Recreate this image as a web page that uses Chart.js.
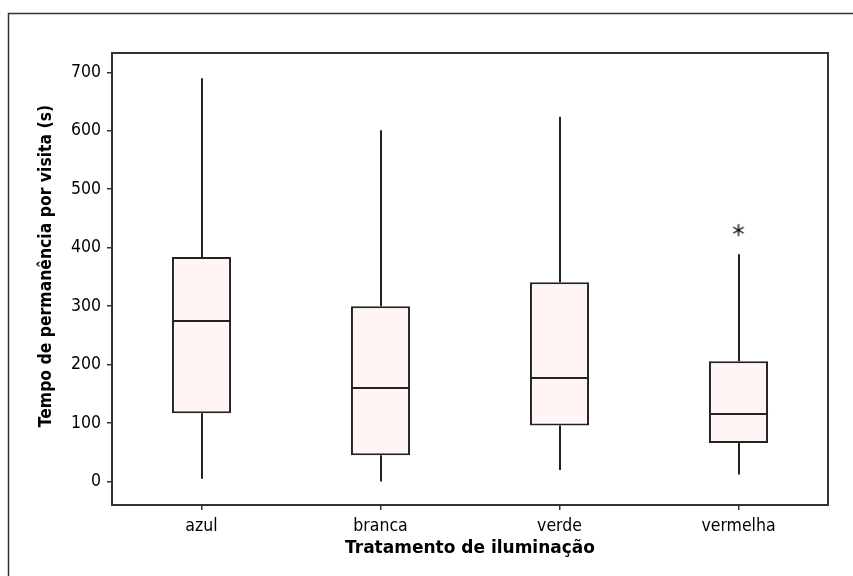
<!DOCTYPE html>
<html>
<head>
<meta charset="utf-8">
<script src="https://cdn.jsdelivr.net/npm/chart.js@4.4.1/dist/chart.umd.min.js"></script>
<style>
  html, body { margin: 0; padding: 0; background: #fff; }
  canvas { display: block; }
</style>
</head>
<body>
<canvas id="box" width="853" height="576"></canvas>
<script>
// Tratamento de iluminação -> tempo de permanência (s)
const categories = ['azul', 'branca', 'verde', 'vermelha'];
const minVals    = [5, 0, 20, 12];
const q1Vals     = [117, 45, 96, 66];
const medianVals = [275, 160, 178, 116];
const q3Vals     = [384, 300, 341, 206];
const maxVals    = [690, 601, 624, 389];
const outliers   = [null, null, null, 430];
const yTitle = 'Tempo de permanência por visita (s)';
const xTitle = 'Tratamento de iluminação';

const FONT = '"DejaVu Sans Condensed", "DejaVu Sans", sans-serif';
const LINE = '#222';

// asterisk marker for outliers (Minitab style)
const star = document.createElement('canvas');
star.width = 14; star.height = 14;
(function () {
  const c = star.getContext('2d');
  c.strokeStyle = '#000';
  c.lineWidth = 1.3;
  c.lineCap = 'round';
  const r = 5.5;
  for (let k = 0; k < 3; k++) {
    const a = Math.PI / 2 + k * Math.PI / 3;
    c.beginPath();
    c.moveTo(7 - r * Math.cos(a), 7 - r * Math.sin(a));
    c.lineTo(7 + r * Math.cos(a), 7 + r * Math.sin(a));
    c.stroke();
  }
})();

const boxParts = {
  id: 'boxParts',
  beforeDraw(chart) {
    const ctx = chart.ctx;
    ctx.save();
    ctx.fillStyle = '#fff';
    ctx.fillRect(0, 0, chart.width, chart.height);
    // outer frame
    ctx.strokeStyle = '#333';
    ctx.lineWidth = 1.5;
    ctx.strokeRect(8.5, 13.5, 1000, 1000);
    // y title, placed like Minitab (a bit above the plot centre)
    ctx.translate(46, 266);
    ctx.rotate(-Math.PI / 2);
    ctx.fillStyle = '#000';
    ctx.font = 'bold 17.4px ' + FONT;
    ctx.textAlign = 'center';
    ctx.textBaseline = 'middle';
    ctx.fillText(yTitle, 0, 0);
    ctx.restore();
  },
  beforeDatasetsDraw(chart) {
    // whiskers
    const ctx = chart.ctx;
    const x = chart.scales.x, y = chart.scales.y;
    ctx.save();
    ctx.strokeStyle = LINE;
    ctx.lineWidth = 2;
    categories.forEach((c, i) => {
      const px = Math.round(x.getPixelForValue(i));
      ctx.beginPath();
      ctx.moveTo(px, y.getPixelForValue(maxVals[i]));
      ctx.lineTo(px, y.getPixelForValue(q3Vals[i]));
      ctx.moveTo(px, y.getPixelForValue(q1Vals[i]));
      ctx.lineTo(px, y.getPixelForValue(minVals[i]));
      ctx.stroke();
    });
    ctx.restore();
  },
  afterDatasetsDraw(chart) {
    const ctx = chart.ctx;
    const y = chart.scales.y;
    const bars = chart.getDatasetMeta(0).data;
    ctx.save();
    ctx.strokeStyle = LINE;
    ctx.lineWidth = 2;
    bars.forEach((b, i) => {
      const py = Math.round(y.getPixelForValue(medianVals[i]));
      ctx.beginPath();
      ctx.moveTo(b.x - b.width / 2, py);
      ctx.lineTo(b.x + b.width / 2, py);
      ctx.stroke();
    });
    // plot frame
    const a = chart.chartArea;
    ctx.strokeStyle = '#333';
    ctx.lineWidth = 2;
    ctx.strokeRect(a.left, a.top, a.right - a.left, a.bottom - a.top);
    ctx.restore();
  }
};

new Chart(document.getElementById('box'), {
  type: 'bar',
  data: {
    labels: categories,
    datasets: [
      {
        data: categories.map((c, i) => [q1Vals[i], q3Vals[i]]),
        backgroundColor: '#FFF5F5',
        borderColor: LINE,
        borderWidth: 2,
        borderSkipped: false,
        barPercentage: 0.33,
        categoryPercentage: 1.0
      },
      {
        type: 'line',
        data: outliers,
        showLine: false,
        pointStyle: star,
        pointRadius: 6
      }
    ]
  },
  options: {
    responsive: false,
    animation: false,
    layout: { padding: { left: 0, top: 53, right: 25, bottom: 0 } },
    plugins: { legend: { display: false }, tooltip: { enabled: false } },
    scales: {
      x: {
        offset: true,
        grid: { display: true, drawOnChartArea: false, offset: false, tickLength: 5, color: '#333', lineWidth: 1.5 },
        border: { display: false },
        ticks: { color: '#000', font: { family: FONT, size: 17.5 }, padding: 6 },
        title: {
          display: true,
          text: xTitle,
          color: '#000',
          font: { family: '"DejaVu Sans", sans-serif', size: 17, weight: 'bold' },
          padding: { top: 0, bottom: 17 }
        },
        afterFit(s) { s.height = 71; }
      },
      y: {
        min: -40,
        max: 733,
        grid: { display: true, drawOnChartArea: false, tickLength: 5, color: '#333', lineWidth: 1.5 },
        border: { display: false },
        ticks: { stepSize: 100, includeBounds: false, color: '#000', font: { family: FONT, size: 17.5 }, padding: 6 },
        afterFit(s) { s.width = 112; }
      }
    }
  },
  plugins: [boxParts]
});
</script>
</body>
</html>
